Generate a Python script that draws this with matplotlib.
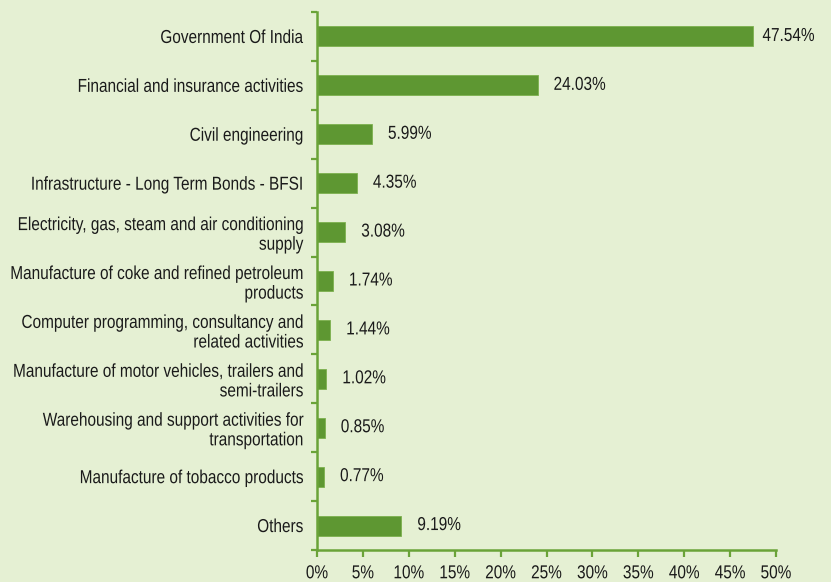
import matplotlib
matplotlib.use("Agg")
import matplotlib.pyplot as plt
import matplotlib.patheffects as pe
from matplotlib.transforms import Affine2D, offset_copy
import numpy as np

plt.rcParams['font.family'] = ['Liberation Sans', 'DejaVu Sans']

sectors = [
    "Government Of India",
    "Financial and insurance activities",
    "Civil engineering",
    "Infrastructure - Long Term Bonds - BFSI",
    "Electricity, gas, steam and air conditioning\nsupply",
    "Manufacture of coke and refined petroleum\nproducts",
    "Computer programming, consultancy and\nrelated activities",
    "Manufacture of motor vehicles, trailers and\nsemi-trailers",
    "Warehousing and support activities for\ntransportation",
    "Manufacture of tobacco products",
    "Others",
]
shares = [47.54, 24.03, 5.99, 4.35, 3.08, 1.74, 1.44, 1.02, 0.85, 0.77, 9.19]
xticks = [0, 5, 10, 15, 20, 25, 30, 35, 40, 45, 50]

bg = "#E5F0D3"
bar_col = "#5E9732"
axis_col = "#6AA338"
txt = "#1a1a1a"
fsize = 13.5


class Narrow(pe.AbstractPathEffect):
    # squeeze glyphs horizontally around the text anchor (narrow font look)
    def __init__(self, text, sx=0.82):
        super().__init__()
        self.text = text
        self.sx = sx

    def draw_path(self, renderer, gc, tpath, affine, rgbFace=None):
        x0 = self.text.get_transform().transform(self.text.get_position())[0]
        sq = Affine2D().translate(-x0, 0).scale(self.sx, 1).translate(x0, 0)
        renderer.draw_path(gc, tpath, affine + sq, rgbFace)


def narrow(t):
    t.set_path_effects([Narrow(t)])


fig = plt.figure(figsize=(8.31, 5.82), dpi=100, facecolor=bg)
ax = fig.add_axes([317/831, 1 - 550/582, (776 - 317)/831, (550 - 12)/582])
ax.set_facecolor(bg)

y = np.arange(len(sectors))
ax.barh(y, shares, height=0.41, color=bar_col, edgecolor="#7DB04E", linewidth=0.6)
ax.set_ylim(len(sectors) - 0.5, -0.5)
ax.set_xlim(0, 50)

for i, v in enumerate(shares):
    off = 6.5 if v > 40 else 11.5
    tr = offset_copy(ax.transData, fig=fig, x=off, y=0, units="points")
    t = ax.text(v, i, f"{v:.2f}%", transform=tr, va="center", ha="left",
                fontsize=fsize, color=txt)
    narrow(t)

ax.set_yticks(y)
ax.set_yticklabels(sectors, fontsize=fsize, color=txt)
ax.set_yticks(np.arange(-0.5, len(sectors) + 0.5, 1), minor=True)
ax.tick_params(axis="y", which="major", length=0, pad=10)
ax.tick_params(axis="y", which="minor", length=4.5, width=1.6, color=axis_col, direction="out")

ax.set_xticks(xticks)
ax.set_xticklabels([f"{t}%" for t in xticks], fontsize=fsize, color=txt)
ax.tick_params(axis="x", length=5, width=1.6, color=axis_col, pad=6)

for t in ax.get_yticklabels() + ax.get_xticklabels():
    narrow(t)

for s in ["top", "right"]:
    ax.spines[s].set_visible(False)
for s in ["left", "bottom"]:
    ax.spines[s].set_color(axis_col)
    ax.spines[s].set_linewidth(1.8)

fig.savefig("out.png", dpi=100, facecolor=bg)
